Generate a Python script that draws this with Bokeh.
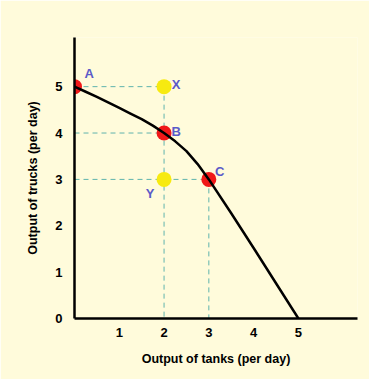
from bokeh.plotting import figure
from bokeh.models import FixedTicker, Range1d
from bokeh.core.properties import value
from bokeh.embed import file_html
from bokeh.resources import INLINE

# Production possibilities frontier
curve_x = [0, 0.25, 0.5, 0.75, 1, 1.25, 1.5, 1.75, 2, 2.25, 2.5, 2.75, 3, 3.5, 4, 4.5, 5]
curve_y = [5, 4.89, 4.78, 4.66, 4.54, 4.42, 4.3, 4.16, 4, 3.82, 3.61, 3.33, 3, 2.27, 1.52, 0.76, 0]

red_names = ["A", "B", "C"]
red_x = [0, 2, 3]
red_y = [5, 4, 3]

yellow_names = ["X", "Y"]
yellow_x = [2, 2]
yellow_y = [5, 3]

x_ticks = [1, 2, 3, 4, 5]
y_ticks = [0, 1, 2, 3, 4, 5]

BG = "#FFFBDB"
FONT = "Liberation Sans"

p = figure(width=369, height=379, output_backend="svg", toolbar_location=None,
           x_range=Range1d(0, 6.32), y_range=Range1d(0, 6.06),
           min_border_left=74, min_border_right=12, min_border_top=37, min_border_bottom=61)
p.background_fill_color = BG
p.border_fill_color = BG
p.outline_line_color = None
p.grid.visible = False

for ax in (p.xaxis[0], p.yaxis[0]):
    ax.axis_line_width = 2.5
    ax.axis_line_color = "black"
    ax.major_tick_line_color = None
    ax.minor_tick_line_color = None
    ax.major_label_text_font = FONT
    ax.major_label_text_font_style = "bold"
    ax.major_label_text_font_size = "13px"
    ax.major_label_text_color = "black"
    ax.axis_label_text_font = FONT
    ax.axis_label_text_font_style = "bold"
    ax.axis_label_text_font_size = "12.5px"
    ax.axis_label_text_color = "black"

p.xaxis.ticker = FixedTicker(ticks=x_ticks)
p.yaxis.ticker = FixedTicker(ticks=y_ticks)
p.xaxis.major_label_standoff = 3
p.yaxis.major_label_standoff = 6
p.xaxis.axis_label = "Output of tanks (per day)"
p.yaxis.axis_label = "Output of trucks (per day)"
p.xaxis.axis_label_standoff = 12
p.yaxis.axis_label_standoff = 12

DASH = "#5fb3ad"
# horizontal guides from the vertical axis
for (xe, ye) in [(yellow_x[0], yellow_y[0]), (red_x[1], red_y[1]), (red_x[2], red_y[2])]:
    p.line([0, xe], [ye, ye], line_color=DASH, line_dash="5 4", line_width=1)
# vertical guides down to the horizontal axis
for (xe, ye) in [(yellow_x[0], yellow_y[0]), (red_x[2], red_y[2])]:
    p.line([xe, xe], [ye, 0], line_color=DASH, line_dash="5 4", line_width=1)

p.scatter(red_x, red_y, size=15, fill_color="#f01818", line_color=None)
p.scatter(yellow_x, yellow_y, size=15, fill_color="#f7ea10", line_color=None)

p.line(curve_x, curve_y, line_color="black", line_width=2.5, line_join="round")

# point labels
p.text([0.33, 2.27, 3.24], [5.28, 4.03, 3.17], text=red_names,
       text_font=value(FONT), text_font_style="bold", text_font_size="13px",
       text_color="#5a5ac8", text_align="center", text_baseline="middle")
p.text([2.27, 1.69], [5.04, 2.69], text=yellow_names,
       text_font=value(FONT), text_font_style="bold", text_font_size="13px",
       text_color="#5a5ac8", text_align="center", text_baseline="middle")

html = file_html(p, INLINE)
html = html.replace("<body>", '<body style="background:%s">' % BG, 1)
open("out.html", "w").write(html)
